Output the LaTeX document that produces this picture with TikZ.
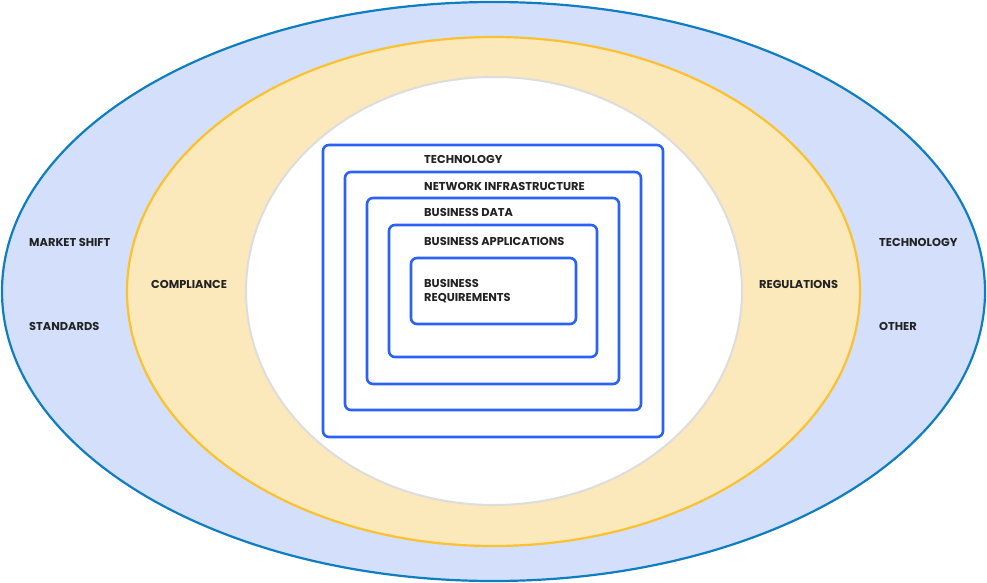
\documentclass[tikz,border=0pt]{standalone}
\usepackage{fontspec}
\setmainfont{Poppins}
\definecolor{outerfill}{HTML}{D3DFFB}
\definecolor{outerline}{HTML}{0F7DC2}
\definecolor{midfill}{HTML}{FBE8BB}
\definecolor{midline}{HTML}{FBC12E}
\definecolor{innerline}{HTML}{DDDDDD}
\definecolor{boxline}{HTML}{2A62F5}
\definecolor{txt}{HTML}{222222}
\begin{document}
\begin{tikzpicture}[x=1pt,y=-1pt,
  lay/.style={draw=boxline,line width=2.6pt,rounded corners=6pt,inner sep=0pt,outer sep=0pt},
  lbl/.style={font=\bfseries\fontsize{11.4}{14}\selectfont,text=txt,anchor=west,inner sep=0pt,align=left}]
\useasboundingbox (0,0) rectangle (987,583);
\fill[white] (0,0) rectangle (987,583);
\draw[fill=outerfill,draw=outerline,line width=2.2pt] (493.5,291.5) ellipse [x radius=491.5,y radius=289.5];
\draw[fill=midfill,draw=midline,line width=2.2pt] (493.5,291.5) ellipse [x radius=366.5,y radius=254.5];
\draw[fill=white,draw=innerline,line width=2pt] (494,291) ellipse [x radius=248,y radius=214];
\node[lay,minimum width=340pt,minimum height=292pt] (b1) at (493,291) {};
\node[lay,minimum width=296pt,minimum height=238pt] (b2) at (493,291) {};
\node[lay,minimum width=252pt,minimum height=186pt] (b3) at (493,291) {};
\node[lay,minimum width=208pt,minimum height=132pt] (b4) at (493,291) {};
\node[lay,minimum width=165pt,minimum height=66pt] (b5) at (493.5,291) {};
\node[lbl] (t1) at (424,159.5) {TECHNOLOGY};
\node[lbl] (t2) at (424,186) {NETWORK INFRASTRUCTURE};
\node[lbl] (t3) at (424,212) {BUSINESS DATA};
\node[lbl] (t4) at (424,241.5) {BUSINESS APPLICATIONS};
\node[lbl] (t5) at (424,291) {BUSINESS\\REQUIREMENTS};
\node[lbl] (m1) at (29,242) {MARKET SHIFT};
\node[lbl] (m2) at (29,326) {STANDARDS};
\node[lbl] (c1) at (151,284) {COMPLIANCE};
\node[lbl] (r1) at (759,284) {REGULATIONS};
\node[lbl] (e1) at (879,242) {TECHNOLOGY};
\node[lbl] (e2) at (879,326) {OTHER};
\end{tikzpicture}
\end{document}
